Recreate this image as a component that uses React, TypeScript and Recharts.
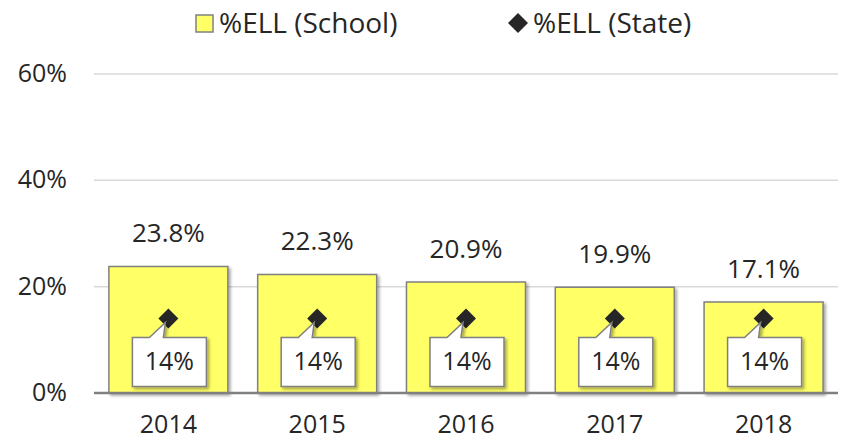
import React from 'react';
import { ComposedChart, Bar, Line, XAxis, YAxis, CartesianGrid, LabelList, Legend } from 'recharts';

const years = ['2014', '2015', '2016', '2017', '2018'];
const schoolEll = [0.238, 0.223, 0.209, 0.199, 0.171];
const stateEll = [0.14, 0.14, 0.14, 0.14, 0.14];
const yTicks = [0, 0.2, 0.4, 0.6];

const data = years.map((y, i) => ({ year: y, school: schoolEll[i], state: stateEll[i] }));

const FONT = '"Open Sans", sans-serif';
const TXT = '#262626';

const XTick = (props: any) => {
  const { x, payload } = props;
  return (
    <text x={x} y={433} textAnchor="middle" fontFamily={FONT} fontSize={25} fill={TXT}>
      {payload.value}
    </text>
  );
};

const YTick = (props: any) => {
  const { y, payload } = props;
  return (
    <text x={67} y={y} dy="0.32em" textAnchor="end" fontFamily={FONT} fontSize={25} fill={TXT}>
      {Math.round(payload.value * 100) + '%'}
    </text>
  );
};

const BarLabel = (props: any) => {
  const { x, y, width, value } = props;
  return (
    <text x={x + width / 2} y={y - 24} textAnchor="middle" fontFamily={FONT} fontSize={26} fill={TXT}>
      {(value * 100).toFixed(1) + '%'}
    </text>
  );
};

const Diamond = (props: any) => {
  const { cx, cy } = props;
  if (cx == null || cy == null) return null;
  const r = 10;
  return <path d={`M${cx},${cy - r} L${cx + r},${cy} L${cx},${cy + r} L${cx - r},${cy} Z`} fill="#262626" />;
};

const Callout = (props: any) => {
  const { x, y, value } = props;
  const cx = x;
  const cy = y;
  const x0 = cx - 36;
  const x1 = cx + 38;
  const y0 = cy + 19;
  const y1 = cy + 68;
  const d = `M${x0},${y0} L${cx - 19},${y0} L${cx - 3},${cy + 4} L${cx - 5},${y0} L${x1},${y0} L${x1},${y1} L${x0},${y1} Z`;
  return (
    <g>
      <path d={d} fill="#ffffff" stroke="#808080" strokeWidth={1.5} filter="url(#shadow)" />
      <text x={cx + 1} y={cy + 51} textAnchor="middle" fontFamily={FONT} fontSize={25} fill={TXT}>
        {Math.round(value * 100) + '%'}
      </text>
    </g>
  );
};

const LegendContent = () => (
  <svg width={842} height={45} style={{ display: 'block' }}>
    <rect x={196} y={15} width={17} height={17} fill="#ffff66" stroke="#808080" strokeWidth={1.5} />
    <text x={219} y={33} fontFamily={FONT} fontSize={28} fill={TXT}>%ELL (School)</text>
    <path d="M518,13 L528,23 L518,33 L508,23 Z" fill="#262626" />
    <text x={533} y={33} fontFamily={FONT} fontSize={28} fill={TXT}>%ELL (State)</text>
  </svg>
);

export default function App() {
  return (
    <div style={{ position: 'absolute', left: 0, top: 0, background: '#fff' }}>
      <ComposedChart
        width={842}
        height={441}
        data={data}
        margin={{ top: 29, right: 4, bottom: 0, left: 0 }}
        barCategoryGap="10%"
      >
        <defs>
          <filter id="shadow" x="-10%" y="-10%" width="130%" height="130%">
            <feDropShadow dx={2} dy={2} stdDeviation={1.5} floodColor="#000" floodOpacity={0.35} />
          </filter>
        </defs>
        <Legend
          verticalAlign="top"
          content={<LegendContent />}
          wrapperStyle={{ position: 'absolute', top: 0, left: 0, width: 842, height: 45 }}
        />
        <CartesianGrid vertical={false} stroke="#d9d9d9" strokeWidth={1.5} />
        <XAxis
          dataKey="year"
          tick={<XTick />}
          tickLine={false}
          axisLine={{ stroke: '#808080', strokeWidth: 2.5 }}
          height={48}
        />
        <YAxis
          domain={[0, 0.6]}
          ticks={yTicks}
          tick={<YTick />}
          tickLine={false}
          axisLine={false}
          width={94}
        />
        <Bar dataKey="school" fill="#ffff66" stroke="#808080" strokeWidth={1.5} isAnimationActive={false} filter="url(#shadow)">
          <LabelList dataKey="school" content={<BarLabel />} />
        </Bar>
        <Line
          dataKey="state"
          stroke="none"
          dot={<Diamond />}
          activeDot={false}
          isAnimationActive={false}
          legendType="diamond"
        >
          <LabelList dataKey="state" content={<Callout />} />
        </Line>
      </ComposedChart>
    </div>
  );
}
